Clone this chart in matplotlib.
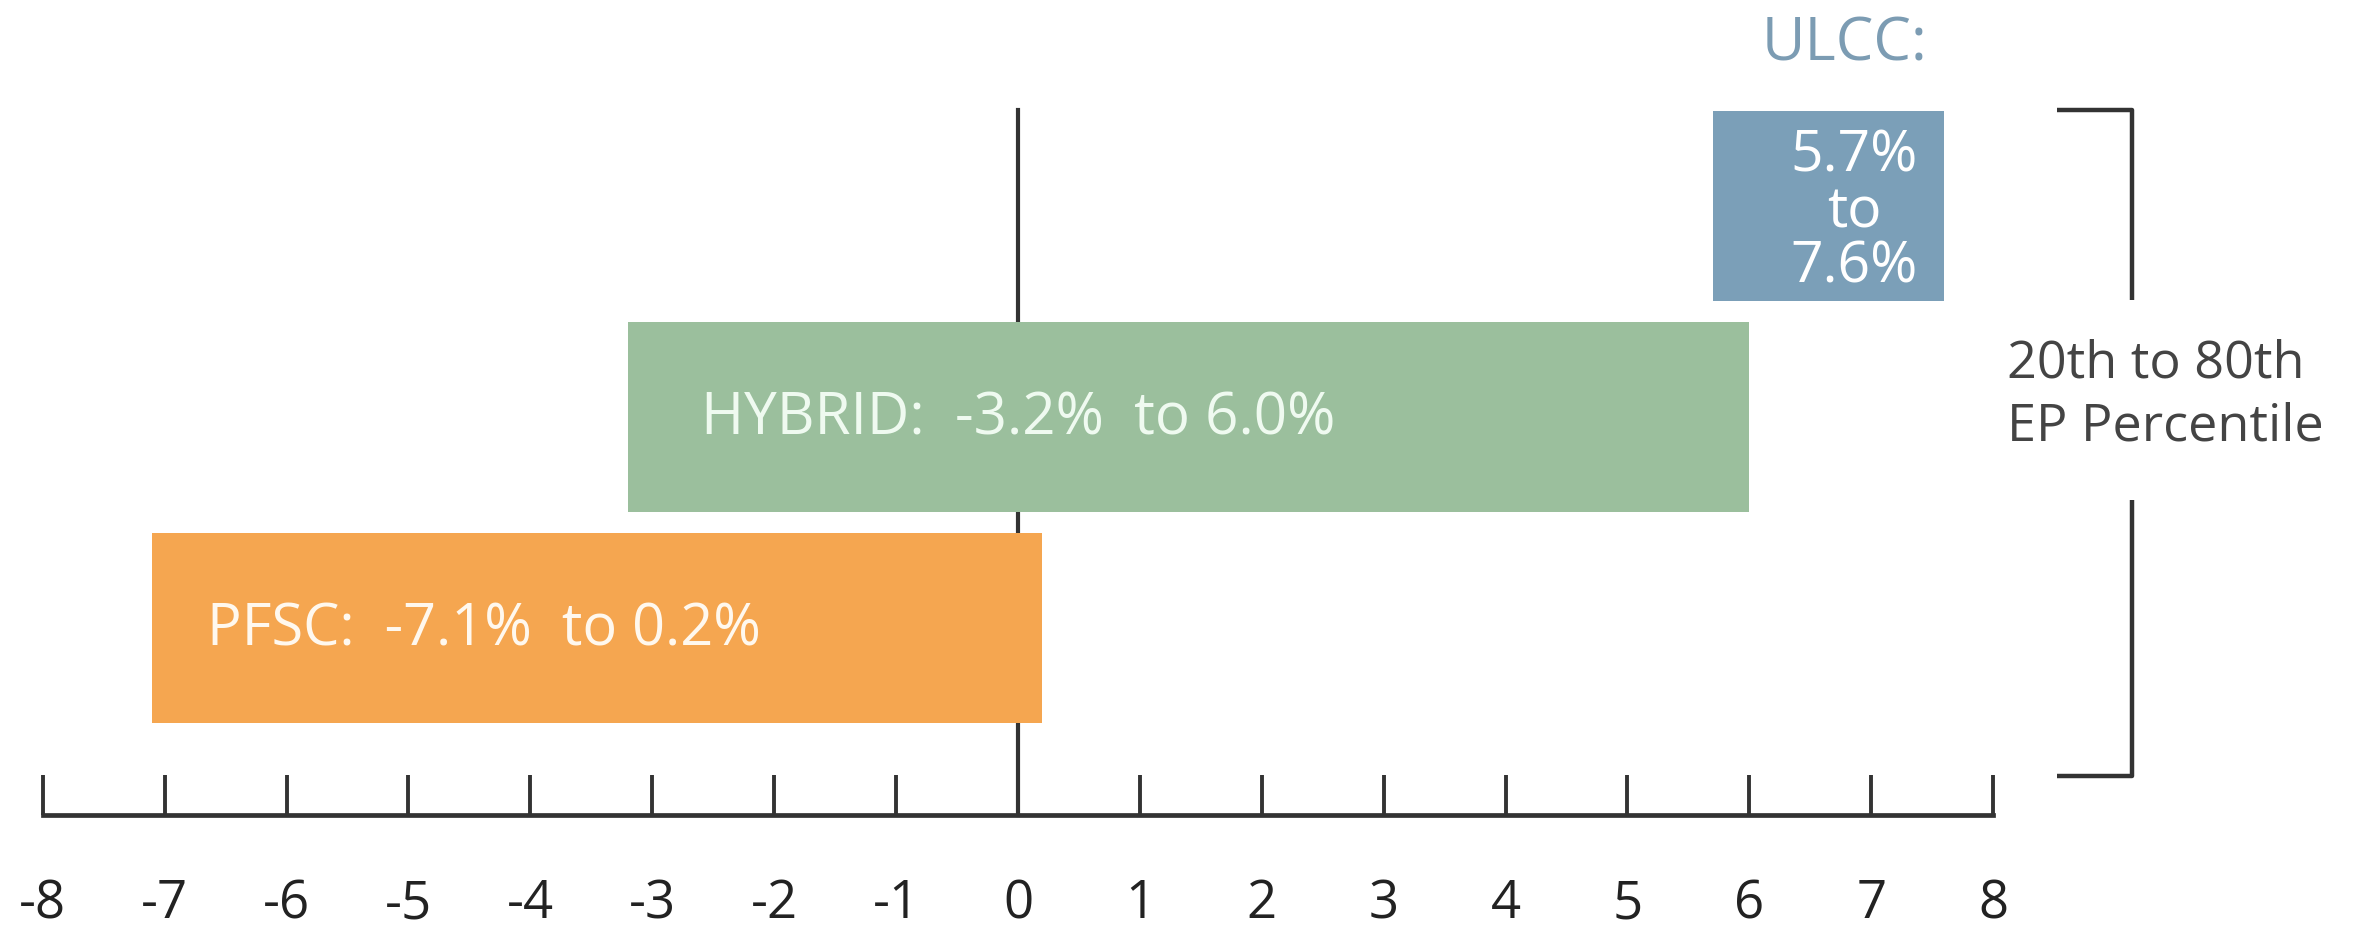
import matplotlib.pyplot as plt

# Ranges of EP change by carrier group (percent)
groups = ['PFSC', 'HYBRID', 'ULCC']
low = [-7.1, -3.2, 5.7]
high = [0.2, 6.0, 7.6]
colors = ['#f5a650', '#9bbf9d', '#7b9fb8']
ticks = list(range(-8, 9))

text_font = ['Open Sans', 'DejaVu Sans']
line_color = '#333333'

fig = plt.figure(figsize=(23.54, 9.34), dpi=100)
ax = fig.add_axes([0, 0, 1, 1])
ax.set_xlim(-8.351, 10.96)
ax.set_ylim(-1.449, 2.978)

rows = list(range(len(groups)))
widths = [h - l for l, h in zip(low, high)]
ax.barh(rows, widths, left=low, height=0.9, color=colors, zorder=3)

# axis line with inward ticks, plus the zero line as the left spine
base_y = -0.885
ax.spines['top'].set_visible(False)
ax.spines['right'].set_visible(False)
ax.spines['bottom'].set_position(('data', base_y))
ax.spines['bottom'].set_bounds(ticks[0], ticks[-1])
ax.spines['bottom'].set_linewidth(3.4)
ax.spines['bottom'].set_color(line_color)
ax.spines['left'].set_position(('data', 0))
ax.spines['left'].set_bounds(base_y, 2.457)
ax.spines['left'].set_linewidth(3)
ax.spines['left'].set_color(line_color)
ax.spines['left'].set_zorder(2)
ax.set_yticks([])
ax.set_xticks(ticks)
ax.set_xticklabels([str(t) for t in ticks])
ax.tick_params(axis='x', direction='in', length=29, width=2.8, color=line_color,
               pad=45, labelsize=38, labelcolor='#222222')
for lab in ax.get_xticklabels():
    lab.set_family(text_font)

# labels inside the bars
ax.text(low[0] + 0.45, rows[0] - 0.01, f'PFSC:  {low[0]}%  to {high[0]}%',
        ha='left', va='center', fontsize=41.5, color='#fff8ee', family=text_font, zorder=4)
ax.text(low[1] + 0.6, rows[1] - 0.01, f'HYBRID:  {low[1]}%  to {high[1]:.1f}%',
        ha='left', va='center', fontsize=42, color='#effaf0', family=text_font, zorder=4)
ax.text(6.86, rows[2] - 0.03, f'{low[2]}%\nto\n{high[2]}%',
        ha='center', va='center', fontsize=41, color='white', linespacing=0.96,
        family=text_font, zorder=4)
ax.text(6.78, 2.765, 'ULCC:', ha='center', va='center', fontsize=43,
        color='#7c9cb3', family=text_font)

# bracket marking the percentile range
bx, cap = 9.14, 8.52
top, bottom = 2.457, -0.70
ax.plot([cap, bx, bx], [top, top, 1.556], color=line_color, lw=3.2, solid_capstyle='butt')
ax.plot([bx, bx, cap], [0.61, bottom, bottom], color=line_color, lw=3.2, solid_capstyle='butt')
ax.text(8.11, 1.105, '20th to 80th\nEP Percentile', ha='left', va='center',
        fontsize=37.5, color='#444444', family=text_font, linespacing=1.3)

fig.savefig('out.png', dpi=100)
